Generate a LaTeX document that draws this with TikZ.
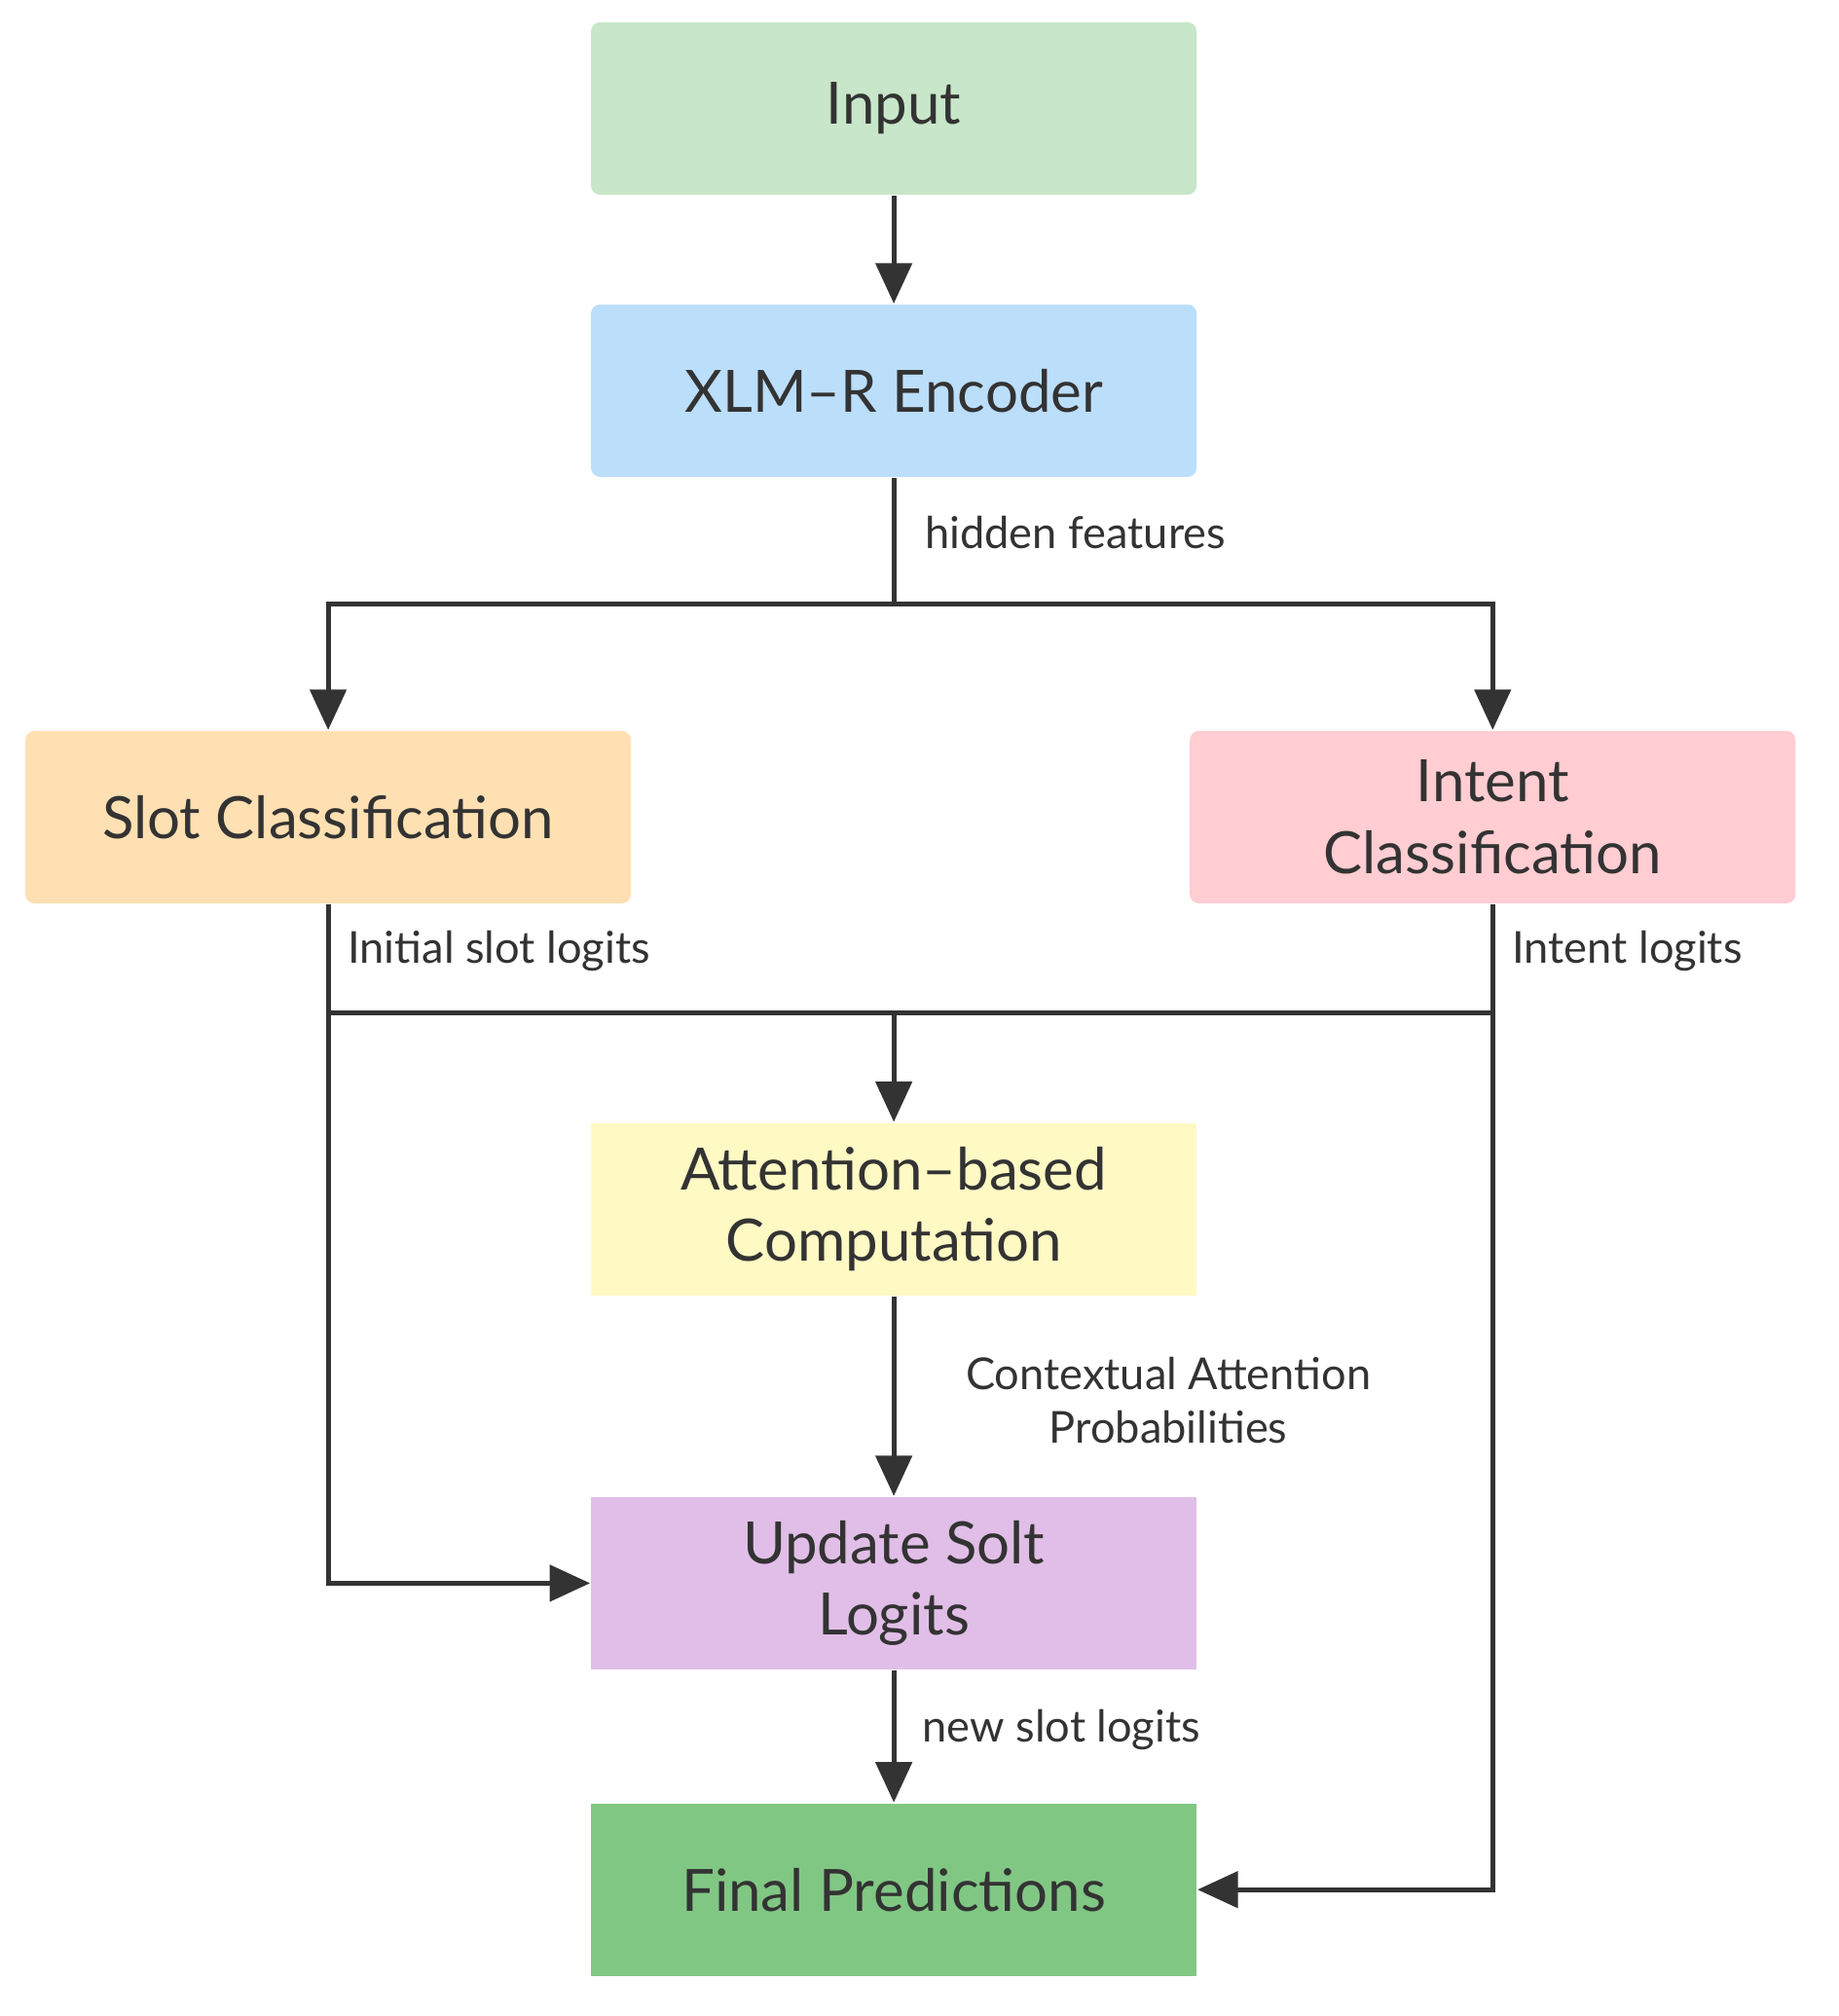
\documentclass[tikz,border=0pt]{standalone}
\usepackage{fontspec}
\setmainfont{Lato}
\usetikzlibrary{arrows.meta}
\definecolor{ln}{HTML}{333333}
\definecolor{cin}{HTML}{C8E6C9}
\definecolor{cenc}{HTML}{BBDEFB}
\definecolor{cslot}{HTML}{FFE0B2}
\definecolor{cint}{HTML}{FFCDD2}
\definecolor{catt}{HTML}{FFF9C4}
\definecolor{cupd}{HTML}{E1BEE7}
\definecolor{cfin}{HTML}{81C784}
\begin{document}
\begin{tikzpicture}[x=0.01cm,y=-0.01cm,
 box/.style={draw=none,minimum width=4.74cm,minimum height=1.35cm,rounded corners=2pt,align=center,font=\fontsize{13}{16}\selectfont,text=ln},
 lab/.style={font=\fontsize{9.8}{12}\selectfont,text=ln,align=center},
 w/.style={draw=ln,line width=1.1pt},
 a/.style={w,-{Triangle[length=9pt,width=8pt]}}]
\useasboundingbox (0,0) rectangle (1440,1579);
\node[box,fill=cin] (in) at (700,85) {Input};
\node[box,fill=cenc] (enc) at (700,306) {XLM–R Encoder};
\node[box,fill=cslot] (slot) at (257,640) {Slot Classification};
\node[box,fill=cint] (int) at (1169,640) {Intent\\Classification};
\node[box,fill=catt,rounded corners=0pt] (att) at (700,947) {Attention–based\\Computation};
\node[box,fill=cupd,rounded corners=0pt] (upd) at (700,1240) {Update Solt\\Logits};
\node[box,fill=cfin,rounded corners=0pt] (fin) at (700,1480) {Final Predictions};
\coordinate (s) at (700,473);
\coordinate (j) at (700,793);
\draw[a] (in) -- (enc);
\draw[w] (enc) -- (s);
\draw[a] (s) -| (slot.north);
\draw[a] (s) -| (int.north);
\draw[w] (slot.south) |- (j) -| (int.south);
\draw[a] (j) -- (att);
\draw[a] (slot.south) |- (upd.west);
\draw[a] (int.south) |- (fin.east);
\draw[a] (att) -- (upd);
\draw[a] (upd) -- (fin);
\node[lab,anchor=west] (l1) at (712,417) {hidden features};
\node[lab,anchor=west] (l2) at (260,745) {Initial slot logits};
\node[lab,anchor=west] (l3) at (1172,745) {Intent logits};
\node[lab] (l4) at (915,1097) {Contextual Attention\\Probabilities};
\node[lab,anchor=west] (l5) at (710,1355) {new slot logits};
\end{tikzpicture}
\end{document}
